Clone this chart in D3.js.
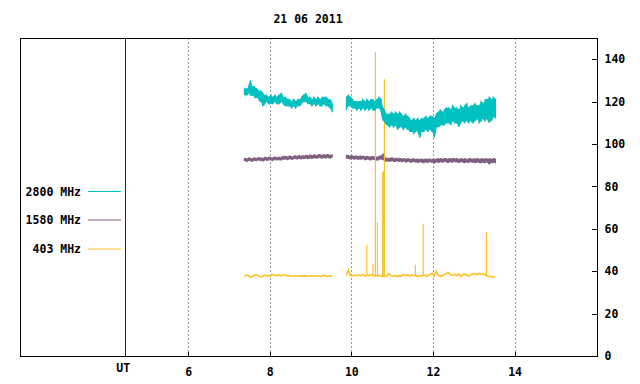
<!DOCTYPE html>
<html>
<head>
<meta charset="utf-8">
<script src="https://cdnjs.cloudflare.com/ajax/libs/d3/7.8.5/d3.min.js"></script>
<style>
body { margin: 0; background: #fff; }
svg { display: block; }
text { font-family: "DejaVu Sans Mono", monospace; font-weight: bold; font-size: 11.5px; fill: #000; }
</style>
</head>
<body>
<svg width="640" height="384"></svg>
<script>
// chart data
var title = "21 06 2011";
var hourTicks = [6, 8, 10, 12, 14];
var fluxTicks = [0, 20, 40, 60, 80, 100, 120, 140];
var utHour = 4.46;
var seriesNames = ["2800 MHz", "1580 MHz", "403 MHz"];
var seriesColors = ["#00c0c0", "#7f5f7f", "#ffc020"];

// two observing runs, sampled every 0.05 h
var startA = 7.38, startB = 9.88, step = 0.05;

// 2800 MHz [low, high] per sample
var f2800A = [[123,126],[123,126],[124,127],[123,130],[123,127],[122,127],[122,126],[121,125],[120,125],[118,124],
  [119,123],[120,123],[119,122],[119,123],[119,122],[120,123],[119,122],[119,123],[120,124],[119,122],
  [118,122],[118,121],[118,121],[117,120],[118,121],[117,120],[118,121],[118,121],[119,122],[120,123],
  [120,124],[119,122],[119,122],[118,121],[119,122],[118,121],[119,122],[118,121],[118,122],[119,122],
  [118,122],[118,121],[117,121],[115,119]];
var f2800B = [[116,122],[118,123],[118,122],[117,121],[117,120],[116,120],[117,120],[116,120],[117,121],[116,120],
  [117,121],[116,120],[117,121],[116,121],[116,120],[117,121],[117,122],[115,121],[111,117],[110,115],
  [109,114],[108,114],[109,115],[108,114],[109,115],[107,114],[108,115],[108,114],[107,113],[108,114],
  [107,113],[106,112],[106,111],[105,112],[106,111],[106,112],[103,111],[106,112],[106,112],[107,113],
  [106,112],[107,113],[106,113],[103,112],[108,114],[108,115],[109,116],[109,115],[109,116],[110,117],
  [110,117],[109,116],[111,118],[110,117],[110,117],[108,116],[110,118],[111,117],[110,118],[111,119],
  [110,117],[111,118],[110,118],[111,119],[112,118],[110,118],[111,120],[112,119],[111,121],[112,121],
  [110,122],[111,121],[113,122],[112,121]];

// 1580 MHz [low, high] per sample
var f1580A = [[92,93.2],[91.7,93],[92.2,93.4],[92,93.3],[91.9,93.1],[92.3,93.5],[92.1,93.2],[92.4,93.6],[92.2,93.4],[92,93.3],
  [92.5,93.7],[92.3,93.5],[92.6,93.8],[92.4,93.6],[92.2,93.5],[92.7,93.9],[92.5,93.6],[92.6,93.8],[92.4,93.7],[92.8,94.1],
  [92.9,94.2],[92.6,93.9],[93,94.3],[92.8,94],[92.9,94.1],[93.1,94.4],[92.9,94.2],[93.2,94.5],[93,94.3],[93.1,94.4],
  [93.3,94.6],[93.1,94.5],[93.4,94.8],[93.2,94.6],[93.5,94.9],[93.3,94.6],[93.4,94.8],[93.6,95],[93.3,94.7],[93.5,94.9],
  [93.4,94.8],[93.6,95],[93.3,94.7],[93.5,94.8]];
var f1580B = [[93,94.5],[93.2,94.6],[92.9,94.3],[93.1,94.4],[92.8,94.2],[93,94.4],[92.7,94.1],[92.9,94.3],[93,94.2],[92.6,94],
  [92.8,94.2],[92.7,93.9],[92.5,94],[92.8,94.1],[92.6,93.9],[92.4,93.8],[92.7,94.2],[92.9,94.4],[92.6,95.5],[91.9,93.4],
  [92,93.3],[91.8,93.2],[92.1,93.5],[91.9,93.3],[91.7,93.1],[92,93.2],[91.8,93.2],[91.6,93],[91.9,93.1],[91.5,92.9],
  [91.7,93.1],[91.6,92.8],[91.4,92.9],[91.7,93],[91.5,92.8],[91.3,92.9],[91.6,92.8],[91.4,92.9],[91.2,92.7],[91.5,92.9],
  [91.3,92.8],[91.6,92.9],[91.4,92.7],[90.9,92.8],[91.5,92.9],[91.3,93],[91.6,93.1],[91.4,92.9],[91.7,93.2],[91.5,93],
  [91.3,92.9],[91.6,93.1],[91.4,93.2],[91.7,93],[91.5,93.1],[91.3,92.8],[91.6,93.1],[91.4,92.9],[91.2,93],[91.5,92.8],
  [91.3,93],[91.6,93.1],[91.4,92.9],[91.2,93],[91.5,93.1],[91.3,92.8],[91.1,93],[91.4,92.9],[91.2,93.1],[91.5,92.9],
  [90.6,93],[91.2,92.8],[91.4,93.2],[90.9,92.8]];

// 403 MHz level per sample
var f403A = [37.6,38.3,37.9,37.2,37.5,38.2,38.4,37.8,37.3,37.6,
  38.1,37.9,37.7,38.0,38.5,37.9,38.1,38.2,37.8,38.3,
  38.1,37.9,38.0,37.7,37.6,37.8,37.7,37.6,37.8,37.7,
  37.8,37.6,37.7,37.9,37.7,37.6,37.8,37.7,37.5,38.1,
  37.7,37.6,37.8,37.5];
var f403B = [38.0,40.5,37.8,37.9,38.2,37.8,38.3,37.9,38.4,37.8,
  38.1,37.9,38.3,38.0,37.8,37.9,38.0,37.6,37.8,37.5,
  37.9,38.9,37.7,37.6,38.0,37.5,37.8,37.7,38.6,37.9,
  38.4,37.6,38.3,37.9,38.0,37.5,37.7,37.8,38.2,37.6,
  37.9,38.5,39.0,37.7,39.9,38.2,37.6,37.9,38.4,38.9,
  39.4,38.3,38.0,38.6,37.9,38.8,37.5,38.3,38.7,38.2,
  37.6,38.4,38.9,38.7,38.3,39.0,38.6,38.8,38.2,37.9,
  37.4,37.6,37.2,37.3];
// 403 MHz bursts [hour, peak]
var bursts403 = [[10.38,52.5],[10.53,43.5],[10.59,143.3],[10.64,63],[10.77,87],[10.79,87],[10.81,130.5],
  [11.57,43],[11.76,62.4],[13.31,58.3]];

(function() {
  var svg = d3.select("svg");
  var plotLeft = 20, plotRight = 597, plotTop = 38, plotBottom = 356;

  var x = d3.scaleLinear().domain([1.88, 16.02]).range([plotLeft, plotRight]);
  var y = d3.scaleLinear().domain([0, 150]).range([plotBottom, plotTop]);

  svg.append("text")
    .attr("x", 308).attr("y", 23)
    .attr("text-anchor", "middle")
    .text(title);

  // dotted hour grid
  svg.append("g").selectAll("line")
    .data(hourTicks)
    .enter().append("line")
      .attr("x1", function(d) { return Math.round(x(d)) + 0.5; })
      .attr("x2", function(d) { return Math.round(x(d)) + 0.5; })
      .attr("y1", plotTop).attr("y2", plotBottom)
      .attr("stroke", "#999")
      .attr("stroke-dasharray", "2,2");

  // UT marker
  svg.append("line")
    .attr("x1", Math.round(x(utHour)) + 0.5).attr("x2", Math.round(x(utHour)) + 0.5)
    .attr("y1", plotTop).attr("y2", plotBottom)
    .attr("stroke", "#800000");
  svg.append("text")
    .attr("x", x(utHour) - 2).attr("y", 372)
    .attr("text-anchor", "middle")
    .text("UT");

  // frame
  svg.append("rect")
    .attr("x", plotLeft + 0.5).attr("y", plotTop + 0.5)
    .attr("width", plotRight - plotLeft).attr("height", plotBottom - plotTop)
    .attr("fill", "none").attr("stroke", "#000");

  var xAxis = svg.append("g")
    .attr("transform", "translate(0," + (plotBottom + 0.5) + ")")
    .call(d3.axisBottom(x).tickValues(hourTicks).tickSize(-5).tickPadding(11).tickFormat(d3.format("d")));
  xAxis.select(".domain").remove();

  var yAxis = svg.append("g")
    .attr("transform", "translate(" + (plotRight + 0.5) + ",0)")
    .call(d3.axisRight(y).tickValues(fluxTicks).tickSize(-6).tickPadding(7));
  yAxis.select(".domain").remove();
  svg.selectAll(".tick text").attr("font-family", null).attr("font-size", null);
  svg.selectAll(".tick line").attr("shape-rendering", "crispEdges");

  // noisy band: filled low/high envelope plus an up/down trace for ragged edges
  function bandPoints(vals, start) {
    var pts = [];
    vals.forEach(function(d, i) {
      var t = start + i * step;
      if (i % 2 === 0) { pts.push([t, d[0]]); pts.push([t, d[1]]); }
      else { pts.push([t, d[1]]); pts.push([t, d[0]]); }
    });
    return pts;
  }
  var line = d3.line()
    .x(function(d) { return x(d[0]); })
    .y(function(d) { return y(d[1]); });

  function drawBand(vals, start, color) {
    var area = d3.area()
      .x(function(d, i) { return x(start + i * step); })
      .y0(function(d) { return y(d[0]); })
      .y1(function(d) { return y(d[1]); });
    svg.append("path").attr("d", area(vals)).attr("fill", color);
    svg.append("path").attr("d", line(bandPoints(vals, start)))
      .attr("fill", "none").attr("stroke", color).attr("stroke-width", 1.2);
  }

  drawBand(f1580A, startA, seriesColors[1]);
  drawBand(f1580B, startB, seriesColors[1]);

  [[f403A, startA], [f403B, startB]].forEach(function(s) {
    var pts = s[0].map(function(v, i) { return [s[1] + i * step, v]; });
    svg.append("path").attr("d", line(pts))
      .attr("fill", "none").attr("stroke", seriesColors[2]).attr("stroke-width", 1.6);
  });

  svg.append("g").selectAll("line")
    .data(bursts403)
    .enter().append("line")
      .attr("x1", function(d) { return x(d[0]); })
      .attr("x2", function(d) { return x(d[0]); })
      .attr("y1", y(37.8))
      .attr("y2", function(d) { return y(d[1]); })
      .attr("stroke", seriesColors[2]).attr("stroke-width", 1.2);

  drawBand(f2800A, startA, seriesColors[0]);
  drawBand(f2800B, startB, seriesColors[0]);

  // legend
  var legendY = [191, 219.5, 248.5];
  var lg = svg.append("g").selectAll("g")
    .data(seriesNames)
    .enter().append("g")
      .attr("transform", function(d, i) { return "translate(0," + legendY[i] + ")"; });
  lg.append("text")
    .attr("x", 81).attr("y", 4.5)
    .attr("text-anchor", "end")
    .text(function(d) { return d; });
  lg.append("line")
    .attr("x1", 88).attr("x2", 121)
    .attr("y1", 0.5).attr("y2", 0.5)
    .attr("stroke", function(d, i) { return seriesColors[i]; });
})();
</script>
</body>
</html>
